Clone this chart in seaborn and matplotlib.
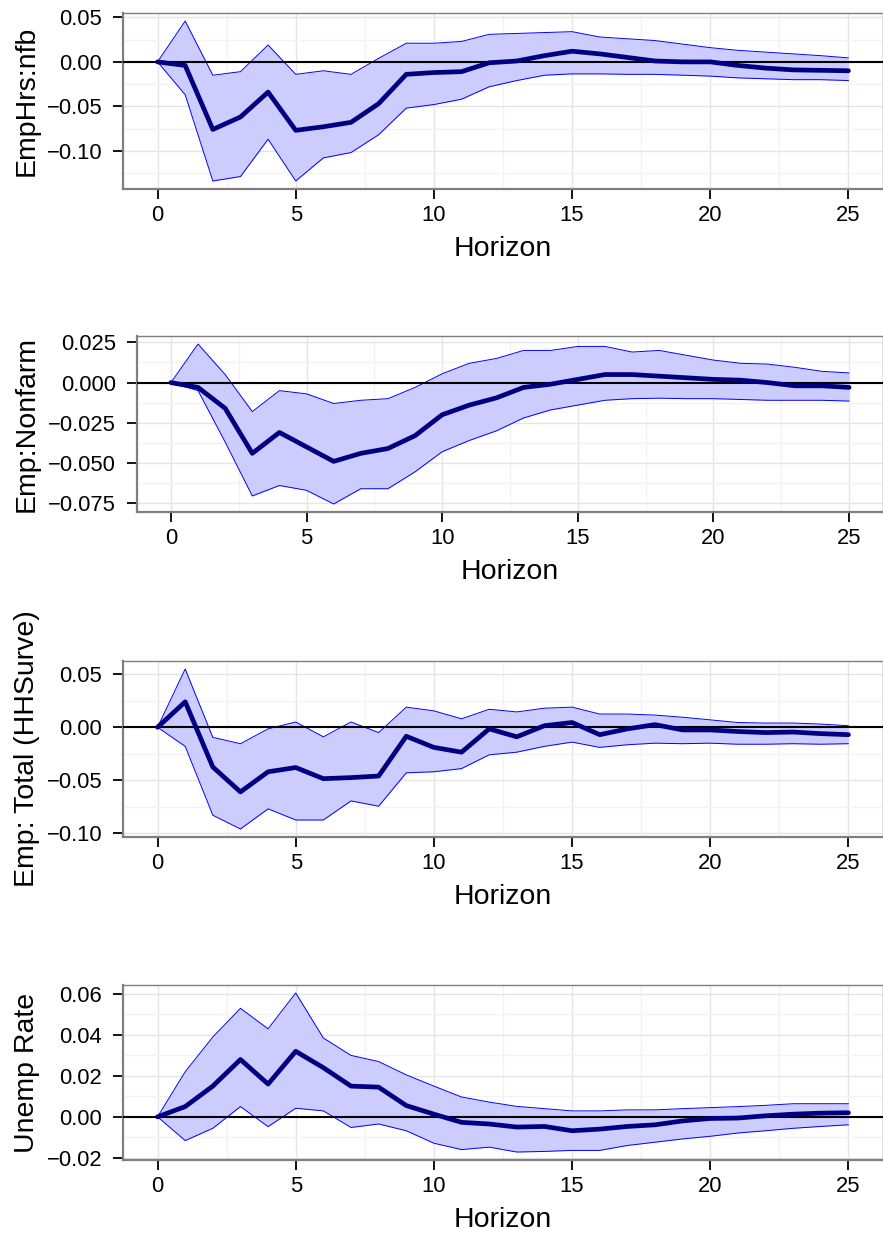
import numpy as np
import pandas as pd
import matplotlib
matplotlib.use("Agg")
import matplotlib.pyplot as plt
import matplotlib.transforms as mtransforms
import seaborn as sns

horizon = list(range(26))

# Panel 1: EmpHrs:nfb
emphrs_mid = [0, -0.004, -0.076, -0.062, -0.034, -0.077, -0.073, -0.068, -0.047, -0.014, -0.012,
              -0.011, -0.001, 0.001, 0.007, 0.012, 0.009, 0.005, 0.001, 0.0, 0.0,
              -0.004, -0.007, -0.009, -0.0095, -0.010]
emphrs_hi = [0, 0.046, -0.015, -0.011, 0.019, -0.014, -0.010, -0.014, 0.004, 0.021, 0.021,
             0.023, 0.031, 0.032, 0.033, 0.034, 0.028, 0.026, 0.024, 0.020, 0.016,
             0.013, 0.011, 0.009, 0.007, 0.0045]
emphrs_lo = [0, -0.037, -0.134, -0.129, -0.087, -0.134, -0.108, -0.102, -0.082, -0.052, -0.048,
             -0.042, -0.028, -0.021, -0.015, -0.0135, -0.0135, -0.014, -0.014, -0.015, -0.016,
             -0.018, -0.019, -0.020, -0.020, -0.021]

# Panel 2: Emp:Nonfarm
nonfarm_mid = [0, -0.003, -0.016, -0.044, -0.031, -0.040, -0.049, -0.044, -0.041, -0.033, -0.020,
               -0.014, -0.0095, -0.003, -0.001, 0.002, 0.005, 0.005, 0.004, 0.003, 0.002,
               0.0015, 0.0, -0.002, -0.002, -0.003]
nonfarm_hi = [0, 0.024, 0.005, -0.018, -0.005, -0.007, -0.013, -0.011, -0.010, -0.003, 0.0055,
              0.012, 0.015, 0.020, 0.020, 0.0225, 0.0225, 0.019, 0.020, 0.017, 0.014,
              0.012, 0.0115, 0.0095, 0.007, 0.006]
nonfarm_lo = [0, -0.005, -0.037, -0.0705, -0.064, -0.067, -0.0755, -0.066, -0.066, -0.0555, -0.043,
              -0.036, -0.030, -0.022, -0.017, -0.014, -0.011, -0.010, -0.0097, -0.010, -0.010,
              -0.0105, -0.011, -0.011, -0.011, -0.0115]

# Panel 3: Emp: Total (HHSurve)
hh_mid = [0, 0.024, -0.0375, -0.061, -0.042, -0.038, -0.0485, -0.0475, -0.046, -0.0085, -0.019,
          -0.0235, -0.0015, -0.009, 0.0015, 0.0045, -0.007, -0.0015, 0.0025, -0.0025, -0.0025,
          -0.004, -0.005, -0.0045, -0.006, -0.007]
hh_hi = [0, 0.055, -0.0095, -0.0155, -0.0015, 0.005, -0.009, 0.005, -0.005, 0.019, 0.0155,
         0.008, 0.017, 0.0145, 0.018, 0.019, 0.0125, 0.0125, 0.0115, 0.0095, 0.007,
         0.0045, 0.004, 0.004, 0.003, 0.0015]
hh_lo = [0, -0.018, -0.083, -0.096, -0.077, -0.0875, -0.0875, -0.0695, -0.0745, -0.043, -0.042,
         -0.039, -0.026, -0.0235, -0.018, -0.014, -0.019, -0.0165, -0.015, -0.0155, -0.015,
         -0.016, -0.016, -0.0155, -0.016, -0.0155]

# Panel 4: Unemp Rate
unemp_mid = [0, 0.005, 0.015, 0.028, 0.016, 0.032, 0.024, 0.015, 0.0145, 0.0055, 0.0013,
             -0.0027, -0.0035, -0.005, -0.0047, -0.0068, -0.006, -0.0047, -0.0039, -0.002, -0.0008,
             -0.0006, 0.0005, 0.0013, 0.0018, 0.002]
unemp_hi = [0, 0.022, 0.039, 0.053, 0.043, 0.0605, 0.0385, 0.030, 0.027, 0.0205, 0.015,
            0.0097, 0.0072, 0.0051, 0.004, 0.0029, 0.0029, 0.0034, 0.0034, 0.004, 0.0045,
            0.005, 0.0056, 0.0064, 0.0064, 0.0064]
unemp_lo = [0, -0.0116, -0.0056, 0.005, -0.0048, 0.0042, 0.0029, -0.0052, -0.0035, -0.0068, -0.0129,
            -0.016, -0.0148, -0.0172, -0.0169, -0.0164, -0.0164, -0.014, -0.0124, -0.0108, -0.0095,
            -0.0079, -0.0068, -0.0056, -0.0047, -0.0039]

ylabels = ["EmpHrs:nfb", "Emp:Nonfarm", "Emp: Total (HHSurve)", "Unemp Rate"]
yticks_list = [[0.05, 0.00, -0.05, -0.10],
               [0.025, 0.000, -0.025, -0.050, -0.075],
               [0.05, 0.00, -0.05, -0.10],
               [0.06, 0.04, 0.02, 0.00, -0.02]]
ytick_fmt = ["{:.2f}", "{:.3f}", "{:.2f}", "{:.2f}"]
xticks = [0, 5, 10, 15, 20, 25]

series = [(emphrs_mid, emphrs_hi, emphrs_lo),
          (nonfarm_mid, nonfarm_hi, nonfarm_lo),
          (hh_mid, hh_hi, hh_lo),
          (unemp_mid, unemp_hi, unemp_lo)]

sns.set_theme(style="white")
plt.rcParams['font.family'] = ['Liberation Sans', 'DejaVu Sans']
plt.rcParams['axes.unicode_minus'] = True
plt.rcParams['axes.labelcolor'] = 'black'
plt.rcParams['text.color'] = 'black'

W, H = 883, 1234
fig = plt.figure(figsize=(W / 100, H / 100), dpi=100)

# axes boxes in pixels: left, right, top, bottom
boxes = [(123, 883, 13, 189), (137, 883, 336, 512), (123, 883, 661, 837), (123, 883, 985, 1160)]

for i, ((mid, hi, lo), box) in enumerate(zip(series, boxes)):
    l, r, t, b = box
    ax = fig.add_axes([l / W, 1 - b / H, (r - l) / W, (b - t) / H])
    df = pd.DataFrame({"Horizon": horizon, "mid": mid, "hi": hi, "lo": lo})
    ax.fill_between(df["Horizon"], df["lo"], df["hi"], color=(0.8, 0.8, 1.0), linewidth=0, zorder=2)
    sns.lineplot(data=df, x="Horizon", y="hi", ax=ax, color="blue", linewidth=0.7, zorder=3)
    sns.lineplot(data=df, x="Horizon", y="lo", ax=ax, color="blue", linewidth=0.7, zorder=3)
    ax.axhline(0, color="black", linewidth=1.5, zorder=4)
    sns.lineplot(data=df, x="Horizon", y="mid", ax=ax, color="#000080", linewidth=3.4, zorder=5)

    allv = np.array(hi + lo + mid)
    vmin, vmax = allv.min(), allv.max()
    pad = 0.05 * (vmax - vmin)
    ax.set_xlim(-1.25, 26.25)

    yt = yticks_list[i]
    ax.set_yticks(yt)
    ax.set_yticklabels([ytick_fmt[i].format(v).replace("-", "\u2212") for v in yt])
    ax.set_xticks(xticks)
    ax.set_xticklabels([str(v) for v in xticks])
    # minor grid
    ax.set_xticks([2.5, 7.5, 12.5, 17.5, 22.5], minor=True)
    ymin_t = sorted(yt)
    step = ymin_t[1] - ymin_t[0]
    ax.set_yticks([v + step / 2 for v in ymin_t] + [ymin_t[0] - step / 2], minor=True)
    ax.set_ylim(vmin - pad, vmax + pad)

    ax.grid(which="major", color="#e5e5e5", linewidth=1.0, zorder=0)
    ax.grid(which="minor", color="#f3f3f3", linewidth=1.0, zorder=0)
    ax.set_axisbelow(True)

    for s in ["left", "bottom"]:
        ax.spines[s].set_color("#7f7f7f")
        ax.spines[s].set_linewidth(1.6)
    for s in ["top", "right"]:
        ax.spines[s].set_color("#7f7f7f")
        ax.spines[s].set_linewidth(1.0)

    ax.tick_params(axis="both", which="major", direction="out", length=7, width=1.3,
                   color="black", labelsize=15.8, labelcolor="black")
    ax.tick_params(axis="y", which="major", pad=8, left=True)
    ax.tick_params(axis="x", which="major", pad=4.5, bottom=True)
    ax.tick_params(which="minor", length=0)

    ax.set_xlabel("Horizon", fontsize=20.5, labelpad=7, color="black")
    ax.set_ylabel(ylabels[i], fontsize=20.5, color="black")
    trans = mtransforms.blended_transform_factory(fig.transFigure, ax.transAxes)
    ax.yaxis.set_label_coords(40 / W, 0.5, transform=trans)

fig.savefig("out.png", dpi=100)
